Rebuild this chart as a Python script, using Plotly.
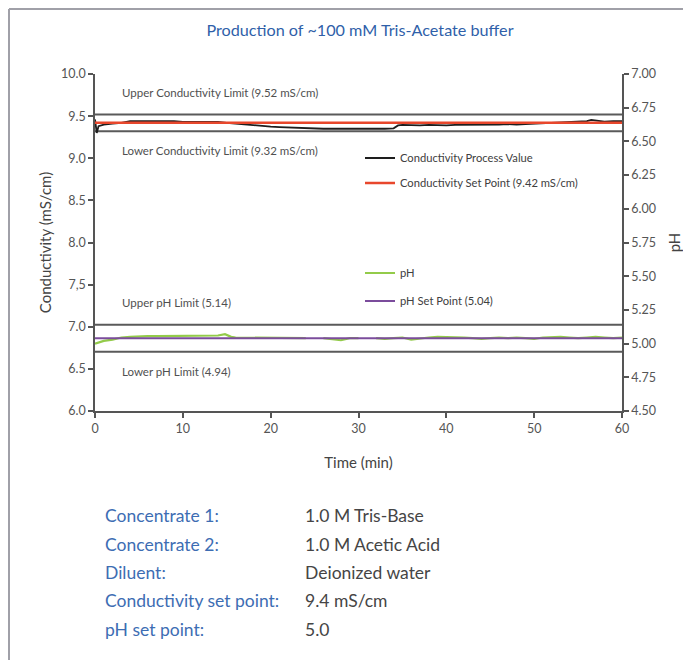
import plotly.graph_objects as go

# ---------------- data ----------------
cond_time = [0, 0.2, 0.4, 1, 2, 3, 4, 5, 6, 7, 8, 9, 10, 11, 12, 13, 14, 15, 16, 17,
             18, 19, 20, 21, 22, 23, 24, 25, 26, 27, 28, 29, 30, 31, 32, 33, 34, 34.5,
             35, 36, 37, 38, 39, 40, 41, 42, 43, 44, 45, 46, 47, 48, 49, 50, 51, 52,
             53, 54, 55, 56, 56.5, 57, 57.5, 58, 59, 60]
cond_value = [9.46, 9.30, 9.38, 9.40, 9.41, 9.42, 9.44, 9.44, 9.445, 9.445, 9.44, 9.44,
              9.43, 9.43, 9.43, 9.43, 9.43, 9.42, 9.41, 9.40, 9.39, 9.38, 9.375, 9.37,
              9.365, 9.36, 9.36, 9.355, 9.35, 9.35, 9.35, 9.35, 9.345, 9.345, 9.35, 9.35,
              9.355, 9.39, 9.395, 9.39, 9.39, 9.395, 9.39, 9.39, 9.395, 9.395, 9.40, 9.40,
              9.40, 9.40, 9.405, 9.40, 9.405, 9.41, 9.41, 9.415, 9.42, 9.425, 9.43, 9.44,
              9.455, 9.45, 9.44, 9.435, 9.44, 9.44]

ph_time = [0, 0.5, 1, 2, 3, 4, 5, 6, 7, 8, 9, 10, 11, 12, 13, 14, 14.8, 15.5, 16, 17,
           18, 19, 20, 21, 22, 23, 24, 25, 26, 27, 28, 29, 30, 31, 32, 33, 34, 35, 36,
           37, 38, 39, 40, 41, 42, 43, 44, 45, 46, 47, 48, 49, 50, 51, 52, 53, 54, 55,
           56, 57, 58, 59, 60]
ph_value = [5.00, 5.01, 5.02, 5.03, 5.045, 5.05, 5.055, 5.055, 5.055, 5.055, 5.055, 5.055,
            5.055, 5.055, 5.055, 5.06, 5.07, 5.05, 5.045, 5.045, 5.045, 5.045, 5.045,
            5.045, 5.045, 5.04, 5.04, None, 5.04, 5.035, 5.025, 5.04, 5.04, None, 5.04,
            5.035, 5.04, 5.045, 5.03, 5.04, 5.045, 5.05, 5.05, 5.05, 5.045, 5.04, 5.035,
            5.04, 5.045, 5.04, 5.045, 5.04, 5.035, 5.045, 5.05, 5.05, 5.045, 5.04, 5.045,
            5.05, 5.045, 5.04, 5.045]

time_range = [0, 60]
cond_setpoint = 9.42
ph_setpoint = 5.04
cond_limits = [9.52, 9.32]
ph_limits = [5.14, 4.94]

x_ticks = [0, 10, 20, 30, 40, 50, 60]
cond_ticks = [6.0, 6.5, 7.0, 7.5, 8.0, 8.5, 9.0, 9.5, 10.0]
cond_ticktext = ["6.0", "6.5", "7.0", "7,5", "8.0", "8.5", "9.0", "9.5", "10.0"]
ph_ticks = [4.50, 4.75, 5.00, 5.25, 5.50, 5.75, 6.00, 6.25, 6.50, 6.75, 7.00]

info_labels = ["Concentrate 1:", "Concentrate 2:", "Diluent:",
               "Conductivity set point:", "pH set point:"]
info_values = ["1.0 M Tris-Base", "1.0 M Acetic Acid", "Deionized water",
               "9.4 mS/cm", "5.0"]

# ---------------- layout geometry (page pixel coords) ----------------
OFF = 8                     # page body margin
PAGE_W, PAGE_H = 691, 660
W, H = PAGE_W - OFF, PAGE_H - OFF
L, R, T, B = 95, 622, 74, 411
pw, ph = R - L, B - T


def px_x(x):
    return (x - L) / pw


def px_y(y):
    return 1 - (y - T) / ph


FONT = "Lato"
AX = "#555555"
BLUE = "#2f5fa9"

fig = go.Figure()

fig.add_trace(go.Scatter(x=cond_time, y=cond_value, mode="lines",
                         line=dict(color="#1e1e1e", width=1.8),
                         name="Conductivity Process Value", legend="legend"))
fig.add_trace(go.Scatter(x=time_range, y=[cond_setpoint] * 2, mode="lines",
                         line=dict(color="#e8472c", width=2.5),
                         name="Conductivity Set Point (9.42 mS/cm)", legend="legend2"))
fig.add_trace(go.Scatter(x=ph_time, y=ph_value, mode="lines", yaxis="y2",
                         line=dict(color="#93cb4a", width=2.2),
                         name="pH", legend="legend3"))
fig.add_trace(go.Scatter(x=time_range, y=[ph_setpoint] * 2, mode="lines", yaxis="y2",
                         line=dict(color="#7b4c9c", width=2),
                         name="pH Set Point (5.04)", legend="legend4"))

shapes = []
for v in cond_limits:
    shapes.append(dict(type="line", xref="x", yref="y", x0=time_range[0], x1=time_range[1],
                       y0=v, y1=v, line=dict(color="#5a5a5a", width=2), layer="below"))
for v in ph_limits:
    shapes.append(dict(type="line", xref="x", yref="y2", x0=time_range[0], x1=time_range[1],
                       y0=v, y1=v, line=dict(color="#5a5a5a", width=2), layer="below"))
# outer frame (left and top edges)
shapes.append(dict(type="line", xref="paper", yref="paper", x0=px_x(9), x1=px_x(9),
                   y0=px_y(9), y1=px_y(680), line=dict(color="#a0a0a8", width=2)))
shapes.append(dict(type="line", xref="paper", yref="paper", x0=px_x(9), x1=px_x(720),
                   y0=px_y(9), y1=px_y(9), line=dict(color="#a0a0a8", width=2)))

annotations = []
lim_font = dict(family=FONT, size=11.5, color="#505050")
for txt, yy in [("Upper Conductivity Limit (9.52 mS/cm)", 93),
                ("Lower Conductivity Limit (9.32 mS/cm)", 150),
                ("Upper pH Limit (5.14)", 302),
                ("Lower pH Limit (4.94)", 371)]:
    annotations.append(dict(text=txt, xref="paper", yref="paper",
                            x=px_x(120), y=px_y(yy), xanchor="left", yanchor="middle",
                            showarrow=False, font=lim_font))

row_y = [515, 544, 572, 600, 629]
for lab, val, yy in zip(info_labels, info_values, row_y):
    annotations.append(dict(text=lab, xref="paper", yref="paper", x=px_x(103), y=px_y(yy),
                            xanchor="left", yanchor="middle", showarrow=False,
                            font=dict(family=FONT, size=17.5, color="#3d6db3")))
    annotations.append(dict(text=val, xref="paper", yref="paper", x=px_x(303), y=px_y(yy),
                            xanchor="left", yanchor="middle", showarrow=False,
                            font=dict(family=FONT, size=17.5, color="#454545")))

legend_common = dict(xanchor="left", yanchor="middle", bgcolor="rgba(0,0,0,0)",
                     borderwidth=0, font=dict(family=FONT, size=11.2, color="#404040"))
lx = px_x(360)

tickfont = dict(family=FONT, size=12.5, color="#555555")
titlefont = dict(family=FONT, size=15, color="#444444")

fig.update_layout(
    width=W, height=H,
    margin=dict(l=L - OFF, r=PAGE_W - R, t=T - OFF, b=PAGE_H - B, autoexpand=False),
    paper_bgcolor="white", plot_bgcolor="white",
    font=dict(family=FONT, color="#4a4a4a"),
    title=dict(text="Production of ~100 mM Tris-Acetate buffer",
               xref="paper", x=px_x(360), xanchor="center",
               y=1 - (30 - OFF) / H, yanchor="middle",
               font=dict(family=FONT, size=16.2, color=BLUE)),
    xaxis=dict(range=time_range, tickvals=x_ticks, showgrid=False, zeroline=False,
               showline=True, linecolor=AX, linewidth=1.5, ticks="outside", ticklen=5,
               tickcolor=AX, tickwidth=1.5, tickfont=tickfont,
               title=dict(text="Time (min)", font=titlefont, standoff=23)),
    yaxis=dict(range=[6, 10], tickvals=cond_ticks, ticktext=cond_ticktext,
               showgrid=False, zeroline=False, showline=True, linecolor=AX, linewidth=1.5,
               ticks="outside", ticklen=5, tickcolor=AX, tickwidth=1.5, tickfont=tickfont,
               title=dict(text="Conductivity (mS/cm)", font=titlefont, standoff=6)),
    yaxis2=dict(range=[4.5, 7], tickvals=ph_ticks, tickformat=".2f", overlaying="y",
                side="right", showgrid=False, zeroline=False, showline=True, linecolor=AX,
                linewidth=1.5, ticks="outside", ticklen=5, tickcolor=AX, tickwidth=1.5,
                tickfont=tickfont,
                title=dict(text="pH", font=titlefont, standoff=15)),
    legend=dict(x=lx, y=px_y(158), **legend_common),
    legend2=dict(x=lx, y=px_y(183), **legend_common),
    legend3=dict(x=lx, y=px_y(273), **legend_common),
    legend4=dict(x=lx, y=px_y(301), **legend_common),
    shapes=shapes,
    annotations=annotations,
    showlegend=True,
)

fig.write_html("out.html")
